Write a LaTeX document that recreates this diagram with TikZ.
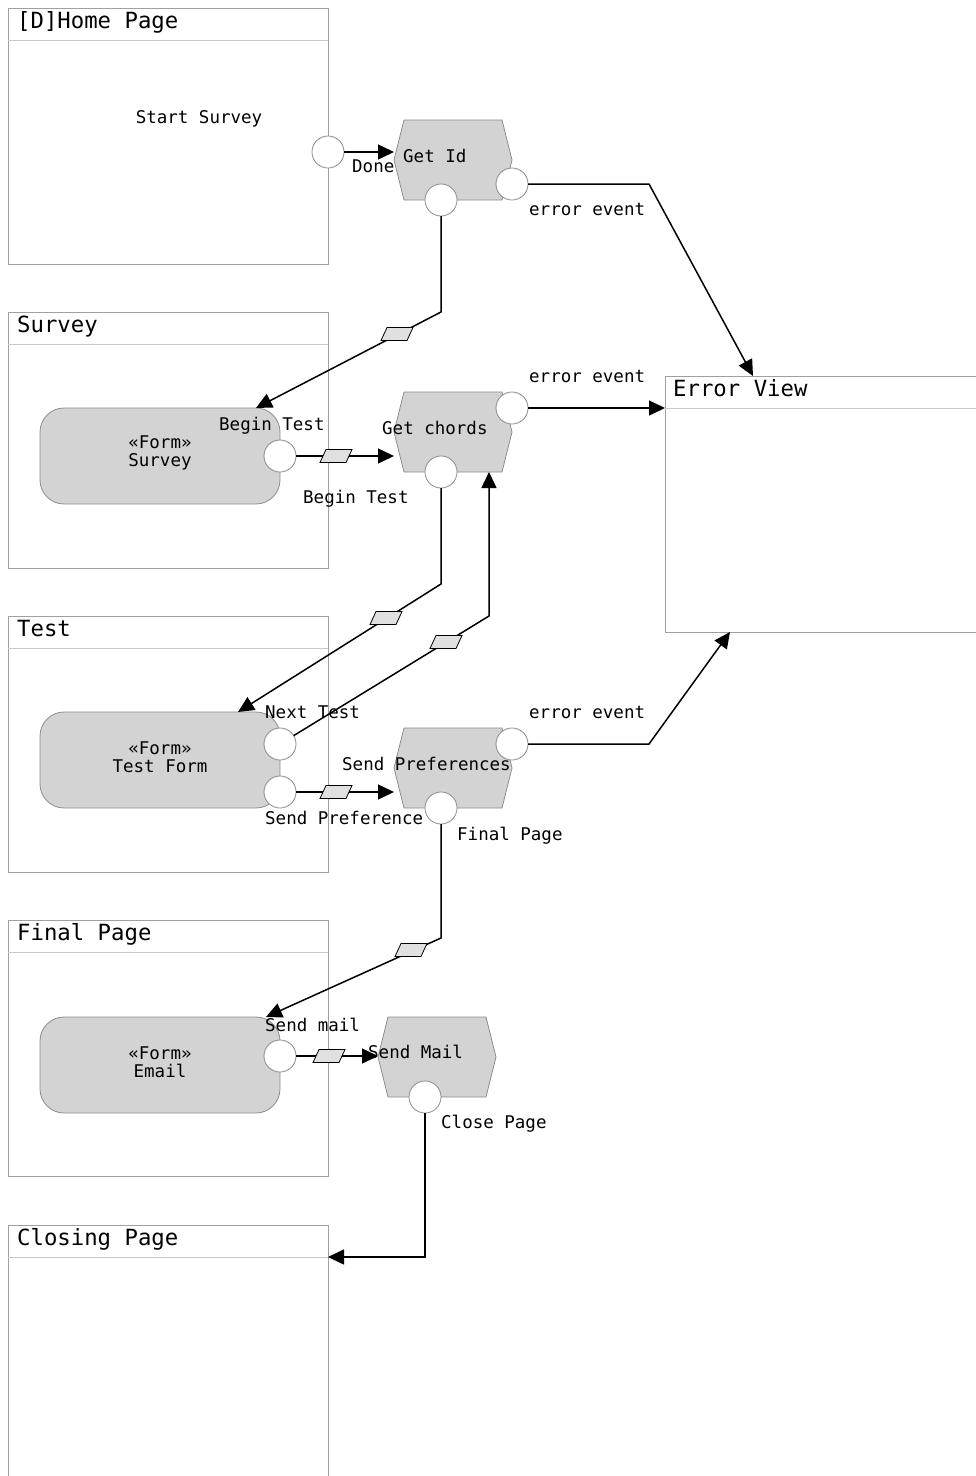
\documentclass[tikz,border=0pt]{standalone}
\usepackage{fontspec}
\setmonofont{DejaVu Sans Mono}
\usetikzlibrary{arrows.meta,calc}

\definecolor{laneline}{HTML}{A0A0A0}
\definecolor{headline}{HTML}{C8C8C8}
\definecolor{shapefill}{HTML}{D3D3D3}
\definecolor{shapeline}{HTML}{8C8C8C}
\definecolor{pinfill}{HTML}{E0E0E0}

\tikzset{
  lane/.style={draw=laneline, line width=0.9pt, anchor=north west, inner sep=0, outer sep=0,
               minimum width=320pt, minimum height=256pt},
  header/.style={draw=headline, line width=0.9pt},
  form/.style={draw=shapeline, fill=shapefill, line width=0.8pt, rounded corners=24pt,
               minimum width=240pt, minimum height=96pt, inner sep=0, outer sep=0},
  actionslot/.style={minimum width=118pt, minimum height=80pt, inner sep=0, outer sep=0},
  actionbox/.style={draw=shapeline, fill=shapefill, line width=0.8pt},
  port/.style={circle, draw=shapeline, fill=white, line width=0.8pt, minimum size=32pt,
               inner sep=0, outer sep=0},
  flow/.style={draw=black, line width=1.5pt, -{Triangle[length=16pt,width=15pt]}},
  lbl/.style={font=\ttfamily\fontsize{17.5}{18}\selectfont, inner sep=0, anchor=base west},
  formtext/.style={font=\ttfamily\fontsize{17.5}{18}\selectfont, inner sep=0, align=center},
  title/.style={font=\ttfamily\fontsize{22.3}{24}\selectfont, inner sep=0, anchor=base west},
  pin/.pic={\filldraw[fill=pinfill, draw=black, line width=0.8pt]
      (-16pt,-6.5pt) -- (-10pt,6.5pt) -- (16pt,6.5pt) -- (10pt,-6.5pt) -- cycle;}
}

% hexagonal action drawn over a named slot node
\newcommand\actionshape[1]{%
  \filldraw[actionbox] (#1.west) -- ([xshift=10pt]#1.north west) -- ([xshift=-10pt]#1.north east)
    -- (#1.east) -- ([xshift=-10pt]#1.south east) -- ([xshift=10pt]#1.south west) -- cycle;}

\begin{document}
\begin{tikzpicture}[x=1pt,y=-1pt]
\useasboundingbox (0,0) rectangle (976,1476);

% ---- swimlane pages
\node[lane] (home) at (8,8) {};
\node[lane] (survey) at (8,312) {};
\node[lane] (test) at (8,616) {};
\node[lane] (final) at (8,920) {};
\node[lane, minimum height=260pt] (closing) at (8,1225) {};
\node[lane, minimum width=320pt] (errv) at (665,376) {};
\foreach \b in {home,survey,test,final,closing,errv}
  \draw[header] ([yshift=-32pt]\b.north west) -- ([yshift=-32pt]\b.north east);

% ---- forms
\node[form] (sform) at (160,456) {};
\node[form] (tform) at (160,760) {};
\node[form] (eform) at (160,1065) {};

% ---- actions
\node[actionslot] (getid) at (453,160) {};
\node[actionslot] (getchords) at (453,432) {};
\node[actionslot] (sendpref) at (453,768) {};
\node[actionslot] (sendmail) at (437,1057) {};
\actionshape{getid}
\actionshape{getchords}
\actionshape{sendpref}
\actionshape{sendmail}

% ---- bend points
\coordinate (b1) at (649,184);
\coordinate (b2) at (441,312);
\coordinate (b3) at (441,584);
\coordinate (b4) at (489,616);
\coordinate (b5) at (649,744);
\coordinate (b6) at (441,938);

% ---- ports
\node[port] (hp) at (328,152) {};
\node[port] (gi1) at (512,184) {};
\node[port] (gi2) at (441,200) {};
\node[port] (sp) at (280,456) {};
\node[port] (gc1) at (512,408) {};
\node[port] (gc2) at (441,472) {};
\node[port] (tp1) at (280,744) {};
\node[port] (tp2) at (280,792) {};
\node[port] (sr1) at (512,744) {};
\node[port] (sr2) at (441,808) {};
\node[port] (ep) at (280,1056) {};
\node[port] (sm) at (425,1097) {};

% ---- connectors
\draw[flow] (hp.east) -- (hp.east -| getid.west);
\draw[flow] (gi1.east) -- (b1) -- ($(errv.north west)+(88,0)$);
\draw[flow] (gi2.south) -- (b2) -- ($(sform.north east)+(-24,0)$);
\draw[flow] (sp.east) -- (sp.east -| getchords.west);
\draw[flow] (gc1.east) -- (gc1.east -| errv.west);
\draw[flow] (gc2.south) -- (b3) -- ($(tform.north east)+(-42,0)$);
\draw[flow] (tp1) -- (b4) -- (b4 |- getchords.south);
\draw[flow] (tp2.east) -- (tp2.east -| sendpref.west);
\draw[flow] (sr1.east) -- (b5) -- ($(errv.south west)+(65,0)$);
\draw[flow] (sr2.south) -- (b6) -- ($(eform.north east)+(-14,0)$);
\draw[flow] (ep.east) -- (ep.east -| sendmail.west);
\draw[flow] (sm.south) |- ([yshift=-32pt]closing.north east);

% ---- object pins on flows
\pic at (397,334) {pin};
\pic at (336,456) {pin};
\pic at (386,618) {pin};
\pic at (446,642) {pin};
\pic at (336,792) {pin};
\pic at (411,950) {pin};
\pic at (329,1056) {pin};

% ---- titles
\node[title] (t1) at (17,28) {[D]Home Page};
\node[title] (t2) at (17,332) {Survey};
\node[title] (t3) at (17,636) {Test};
\node[title] (t4) at (17,940) {Final Page};
\node[title] (t5) at (17,1245) {Closing Page};
\node[title] (t6) at (673,396) {Error View};

% ---- form texts
\node[formtext] (f1) at (160,453) {«Form»\\Survey};
\node[formtext] (f2) at (160,757) {«Form»\\Test Form};
\node[formtext] (f3) at (160,1062) {«Form»\\Email};

% ---- labels
\node[lbl, anchor=base] (l1) at (199,123) {Start Survey};
\node[lbl] (l2) at (352,172) {Done};
\node[lbl] (l3) at (403,162) {Get Id};
\node[lbl] (l4) at (529,215) {error event};
\node[lbl] (l5) at (529,382) {error event};
\node[lbl] (l6) at (219,430) {Begin Test};
\node[lbl] (l7) at (382,434) {Get chords};
\node[lbl] (l8) at (303,503) {Begin Test};
\node[lbl] (l9) at (265,718) {Next Test};
\node[lbl] (l10) at (529,718) {error event};
\node[lbl] (l11) at (342,770) {Send Preferences};
\node[lbl] (l12) at (265,824) {Send Preference};
\node[lbl] (l13) at (457,840) {Final Page};
\node[lbl] (l14) at (265,1031) {Send mail};
\node[lbl] (l15) at (368,1058) {Send Mail};
\node[lbl] (l16) at (441,1128) {Close Page};
\end{tikzpicture}
\end{document}
